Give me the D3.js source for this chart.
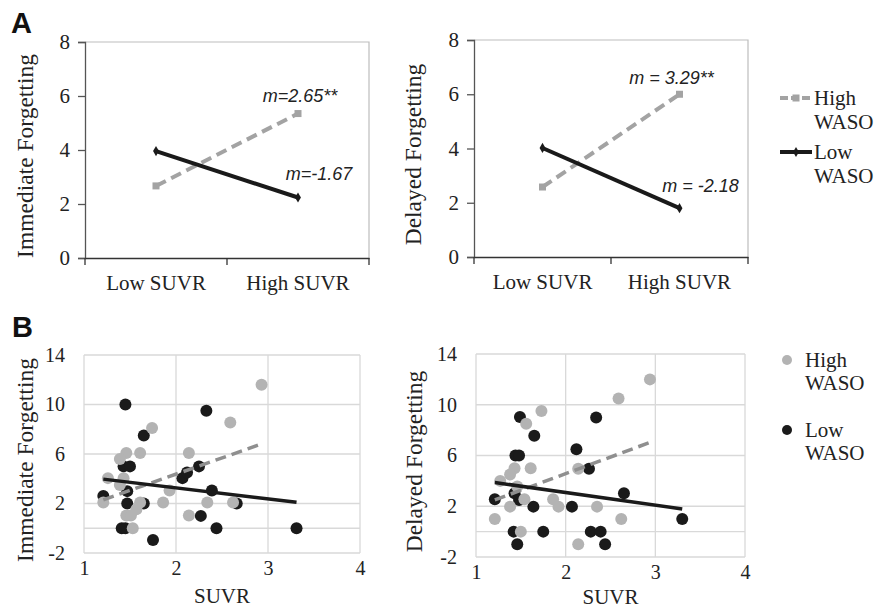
<!DOCTYPE html>
<html>
<head>
<meta charset="utf-8">
<script src="https://cdn.jsdelivr.net/npm/d3@7"></script>
<style>
  body { margin: 0; background: #fff; }
  svg { display: block; }
  .serif { font-family: "Liberation Serif", "Times New Roman", serif; fill: #222; }
  .note { font-family: "Liberation Sans", Arial, sans-serif; font-style: italic; font-size: 18px; fill: #222; }
</style>
</head>
<body>
<script>
// panel A: model estimates at low / high SUVR
const categories = ["Low SUVR", "High SUVR"];
const immHighWaso = [2.67, 5.35];
const immLowWaso = [3.96, 2.24];
const delHighWaso = [2.58, 6.0];
const delLowWaso = [4.02, 1.8];
const aTicks = [0, 2, 4, 6, 8];
const aNotes = {imm: ["m=2.65**", "m=-1.67"], del: ["m = 3.29**", "m = -2.18"]};

// panel B: raw points [SUVR, forgetting]
const immHighPts = [[2.93,11.6],[2.59,8.55],[1.74,8.1],[1.46,6.08],[1.39,5.6],[1.61,6.08],[2.14,6.08],
  [1.26,4.05],[1.43,4.05],[1.39,3.5],[1.93,3.05],[1.21,2.08],[1.61,2.08],[1.57,1.54],[1.86,2.08],
  [2.34,2.08],[2.62,2.08],[1.46,1.03],[1.51,1.03],[2.14,1.03],[1.53,0]];
const immLowPts = [[1.45,10],[2.33,9.5],[1.65,7.5],[1.43,5],[1.5,5],[2.07,4.05],[2.12,4.5],[2.25,5],
  [2.39,3.05],[1.47,3],[1.21,2.6],[1.47,2],[1.65,2],[2.66,2],[2.27,1],[1.41,0],[1.45,0],[2.44,0],
  [3.31,0],[1.75,-0.95]];
const delHighPts = [[2.94,12],[2.59,10.5],[1.73,9.5],[1.56,8.5],[1.43,5],[1.38,4.5],[1.61,5],[2.14,4.95],
  [1.27,4],[1.46,3.55],[1.54,2.55],[1.38,1.97],[1.86,2.55],[1.92,1.97],[2.35,1.97],[1.21,1],[2.62,1],
  [1.5,0],[2.14,-1]];
const delLowPts = [[1.49,9.03],[2.34,9],[1.65,7.55],[2.12,6.5],[1.44,6],[1.48,6],[2.26,4.95],[2.65,3.03],
  [1.21,2.55],[1.43,3.03],[1.48,2.5],[1.64,1.97],[2.07,1.97],[3.3,1],[1.42,0],[1.75,0],[2.28,0],
  [2.39,0],[1.46,-1],[2.44,-1]];
const immHighTrend = [[1.21,2.3],[2.91,6.76]];
const immLowTrend = [[1.21,3.97],[3.31,2.1]];
const delHighTrend = [[1.21,2.5],[2.94,7.03]];
const delLowTrend = [[1.21,3.87],[3.3,1.79]];
const bTicksY = [-2, 2, 6, 10, 14];
const bTicksX = [1, 2, 3, 4];

const W = 877, H = 609;
const svg = d3.select("body").append("svg").attr("width", W).attr("height", H);

const grayLine = "#a3a3a3", black = "#1a1a1a";
const serifFont = '"Liberation Serif", "Times New Roman", serif';
const plain = d => String(d); // hyphen minus like the original

function styleTicks(sel, size) {
  sel.selectAll("text").attr("class", "serif")
    .style("font-family", serifFont).style("font-size", size + "px").attr("fill", "#222");
}

function panelA(box, high, low, title, notes) {
  const x = d3.scaleBand().domain(categories).range([box.x0, box.x1]);
  const y = d3.scaleLinear().domain([0, 8]).range([box.y1, box.y0]);
  const g = svg.append("g");
  // plot border
  g.append("path").attr("d", `M${box.x0},${box.y0}H${box.x1}V${box.y1}`)
    .attr("fill", "none").attr("stroke", "#bdbdbd").attr("stroke-width", 1.2);
  const ya = g.append("g").attr("transform", `translate(${box.x0},0)`)
    .call(d3.axisLeft(y).tickValues(aTicks).tickFormat(plain).tickSize(7).tickPadding(8));
  ya.select(".domain").attr("stroke", "#555").attr("stroke-width", 1.3);
  ya.selectAll(".tick line").attr("stroke", "#555").attr("stroke-width", 1.3);
  styleTicks(ya, 21);
  const xa = g.append("g").attr("transform", `translate(0,${box.y1})`)
    .call(d3.axisBottom(x).tickSize(0).tickPadding(17));
  xa.select(".domain").attr("stroke", "#333").attr("stroke-width", 1.3);
  styleTicks(xa, 21);
  // category boundary ticks
  g.selectAll(".bt").data([box.x0, (box.x0 + box.x1) / 2, box.x1]).enter().append("line")
    .attr("x1", d => d).attr("x2", d => d).attr("y1", box.y1).attr("y2", box.y1 + 7)
    .attr("stroke", "#333").attr("stroke-width", 1.3);

  const line = d3.line().x((d, i) => x(categories[i]) + x.bandwidth() / 2).y(d => y(d));
  g.append("path").datum(high).attr("d", line).attr("fill", "none")
    .attr("stroke", grayLine).attr("stroke-width", 4).attr("stroke-dasharray", "11,6");
  g.selectAll(".sq").data(high).enter().append("rect")
    .attr("x", (d, i) => x(categories[i]) + x.bandwidth() / 2 - 3.5).attr("y", d => y(d) - 3.5)
    .attr("width", 7).attr("height", 7).attr("fill", grayLine);
  g.append("path").datum(low).attr("d", line).attr("fill", "none")
    .attr("stroke", black).attr("stroke-width", 4);
  g.selectAll(".dm").data(low).enter().append("path")
    .attr("d", d3.symbol(d3.symbolDiamond, 30))
    .attr("transform", (d, i) => `translate(${x(categories[i]) + x.bandwidth() / 2},${y(d)})`)
    .attr("fill", black);

  const hx = x(categories[1]) + x.bandwidth() / 2;
  g.append("text").attr("class", "note").attr("x", hx + notes.dx[0]).attr("y", y(high[1]) - notes.dy[0])
    .attr("text-anchor", "middle").text(notes.t[0]);
  g.append("text").attr("class", "note").attr("x", hx + notes.dx[1]).attr("y", y(low[1]) - notes.dy[1])
    .attr("text-anchor", "middle").text(notes.t[1]);

  g.append("text").attr("class", "serif").style("font-size", "23.5px")
    .attr("transform", `translate(${box.tx},${(box.y0 + box.y1) / 2 + 6}) rotate(-90)`)
    .attr("text-anchor", "middle").attr("dominant-baseline", "central").text(title);
}

function panelB(box, highPts, lowPts, highTrend, lowTrend, title) {
  const x = d3.scaleLinear().domain([1, 4]).range([box.x0, box.x1]);
  const y = d3.scaleLinear().domain([-2, 14]).range([box.y1, box.y0]);
  const g = svg.append("g");
  const grid = "#d9d9d9";
  g.selectAll(".gy").data(bTicksY.concat([0])).enter().append("line")
    .attr("x1", box.x0).attr("x2", box.x1).attr("y1", d => y(d)).attr("y2", d => y(d))
    .attr("stroke", grid).attr("stroke-width", 1.3);
  g.selectAll(".gx").data(bTicksX).enter().append("line")
    .attr("x1", d => x(d)).attr("x2", d => x(d)).attr("y1", box.y0).attr("y2", box.y1)
    .attr("stroke", grid).attr("stroke-width", 1.3);
  const ya = g.append("g").attr("transform", `translate(${box.x0},0)`)
    .call(d3.axisLeft(y).tickValues(bTicksY).tickFormat(plain).tickSize(0).tickPadding(19));
  ya.select(".domain").remove();
  styleTicks(ya, 20);
  const xa = g.append("g").attr("transform", `translate(0,${box.y1})`)
    .call(d3.axisBottom(x).tickValues(bTicksX).tickFormat(plain).tickSize(0).tickPadding(8));
  xa.select(".domain").remove();
  styleTicks(xa, 20);

  g.selectAll(".lo").data(lowPts).enter().append("circle")
    .attr("cx", d => x(d[0])).attr("cy", d => y(d[1])).attr("r", 6).attr("fill", black);
  g.selectAll(".hi").data(highPts).enter().append("circle")
    .attr("cx", d => x(d[0])).attr("cy", d => y(d[1])).attr("r", 6).attr("fill", "#b3b3b3");
  const tl = d3.line().x(d => x(d[0])).y(d => y(d[1]));
  g.append("path").datum(highTrend).attr("d", tl).attr("fill", "none")
    .attr("stroke", "#8f8f8f").attr("stroke-width", 3.5).attr("stroke-dasharray", "11,6");
  g.append("path").datum(lowTrend).attr("d", tl).attr("fill", "none")
    .attr("stroke", black).attr("stroke-width", 3.5);

  g.append("text").attr("class", "serif").style("font-size", "23.5px")
    .attr("transform", `translate(${box.tx},${(box.y0 + box.y1) / 2 + 6}) rotate(-90)`)
    .attr("text-anchor", "middle").attr("dominant-baseline", "central").text(title);
  g.append("text").attr("class", "serif").style("font-size", "21px")
    .attr("x", (box.x0 + box.x1) / 2).attr("y", box.sy).attr("text-anchor", "middle").text("SUVR");
}

panelA({x0: 85, x1: 369, y0: 42, y1: 258, tx: 25}, immHighWaso, immLowWaso, "Immediate Forgetting",
  {t: aNotes.imm, dx: [2, 21], dy: [12, 18]});
panelA({x0: 474, x1: 748, y0: 40, y1: 257, tx: 413}, delHighWaso, delLowWaso, "Delayed Forgetting",
  {t: aNotes.del, dx: [-8, 21], dy: [10, 16]});
panelB({x0: 84, x1: 360, y0: 355, y1: 553, tx: 25, sy: 603}, immHighPts, immLowPts, immHighTrend, immLowTrend,
  "Immediate Forgetting");
panelB({x0: 476, x1: 745, y0: 354, y1: 557, tx: 414, sy: 604}, delHighPts, delLowPts, delHighTrend, delLowTrend,
  "Delayed Forgetting");

// panel letters
svg.append("text").attr("x", 11).attr("y", 33).attr("font-family", "Liberation Sans, Arial, sans-serif")
  .attr("font-weight", "bold").attr("font-size", 29).attr("fill", "#111").text("A");
svg.append("text").attr("x", 12).attr("y", 337).attr("font-family", "Liberation Sans, Arial, sans-serif")
  .attr("font-weight", "bold").attr("font-size", 29).attr("fill", "#111").text("B");

// legends
const legA = svg.append("g");
[["High", "WASO", 98, "hi"], ["Low", "WASO", 152, "lo"]].forEach(([a, b, yy, k]) => {
  if (k === "hi") {
    legA.append("line").attr("x1", 780).attr("x2", 812).attr("y1", yy).attr("y2", yy)
      .attr("stroke", grayLine).attr("stroke-width", 4).attr("stroke-dasharray", "8,3");
    legA.append("rect").attr("x", 792.5).attr("y", yy - 3.5).attr("width", 7).attr("height", 7).attr("fill", grayLine);
  } else {
    legA.append("line").attr("x1", 780).attr("x2", 812).attr("y1", yy).attr("y2", yy)
      .attr("stroke", black).attr("stroke-width", 4);
    legA.append("path").attr("d", d3.symbol(d3.symbolDiamond, 30)).attr("transform", `translate(796,${yy})`).attr("fill", black);
  }
  legA.append("text").attr("class", "serif").style("font-size", "21px").attr("x", 814).attr("y", yy + 7).text(a);
  legA.append("text").attr("class", "serif").style("font-size", "21px").attr("x", 814).attr("y", yy + 31).text(b);
});
const legB = svg.append("g");
[["High", "WASO", 360, "#b3b3b3"], ["Low", "WASO", 430, black]].forEach(([a, b, yy, c]) => {
  legB.append("circle").attr("cx", 787).attr("cy", yy).attr("r", 5).attr("fill", c);
  legB.append("text").attr("class", "serif").style("font-size", "21px").attr("x", 805).attr("y", yy + 7).text(a);
  legB.append("text").attr("class", "serif").style("font-size", "21px").attr("x", 805).attr("y", yy + 30).text(b);
});
</script>
</body>
</html>
